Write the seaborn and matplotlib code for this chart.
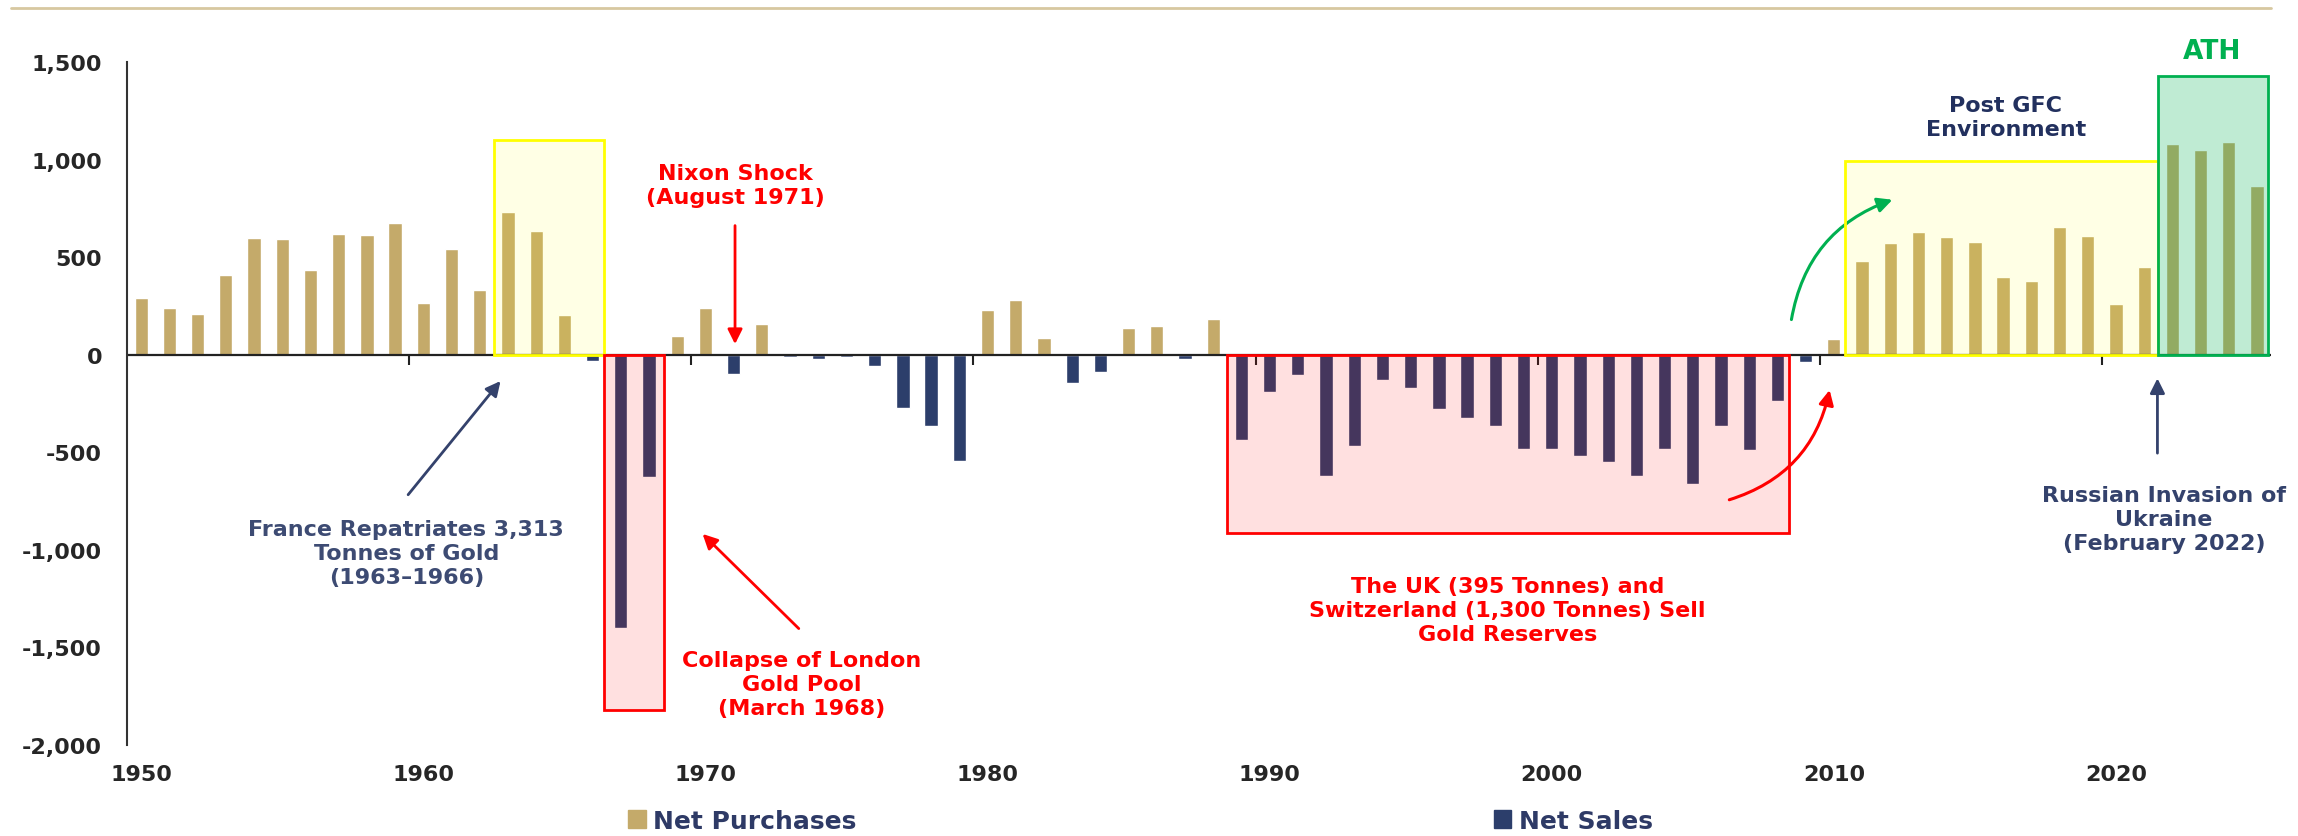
import pandas as pd
import seaborn as sns
import matplotlib.pyplot as plt
from matplotlib.patches import Rectangle, Patch
from matplotlib.lines import Line2D

# data (tonnes)
years = list(range(1950, 2026))
net_flow = [292, 239, 208, 410, 600, 595, 437, 619, 612, 675,
            267, 543, 333, 731, 634, 202, -30, -1400, -624, 96,
            239, -99, 156, -12, -20, -12, -58, -274, -367, -543,
            232, 279, 87, -146, -86, 137, 149, -22, 183, -436,
            -191, -102, -622, -469, -128, -171, -280, -326, -365, -482,
            -482, -519, -547, -619, -482, -664, -367, -487, -237, -34,
            82, 482, 574, 632, 605, 581, 400, 379, 656, 608,
            260, 451, 1083, 1049, 1093, 865]
series_names = ['Net Purchases', 'Net Sales']
y_ticks = [-2000, -1500, -1000, -500, 0, 500, 1000, 1500]
x_ticks = [1950, 1960, 1970, 1980, 1990, 2000, 2010, 2020]

TAN = '#C4AA6A'
NAVY = '#2C3E6B'
RED = '#FF0000'
GREEN = '#00B050'
YELLOW = '#FFFF00'
SLATE = '#34426C'

df = pd.DataFrame({'year': years, 'value': net_flow})
df['type'] = df['value'].apply(lambda v: series_names[0] if v >= 0 else series_names[1])

sns.set_style('white')
plt.rcParams['font.family'] = ['DejaVu Sans']

fig = plt.figure(figsize=(22.98, 8.37), dpi=100)
ax = fig.add_axes([0.0553, 0.1087, 0.933, 0.8157])

sns.barplot(data=df, x='year', y='value', hue='type', hue_order=series_names,
            palette=[TAN, NAVY], dodge=False, native_scale=True, width=0.47,
            saturation=1, legend=False, ax=ax, zorder=2)

ax.set_xlim(1949.5, 2025.5)
ax.set_ylim(-2000, 1500)
ax.set_xlabel('')
ax.set_ylabel('')

# zero line with small ticks between decades
ax.axhline(0, color='#222222', lw=1.6, zorder=2.5)
ax.plot([x - 0.5 for x in x_ticks[1:]], [0] * (len(x_ticks) - 1), ls='none',
        marker=3, ms=7, mew=1.5, color='#222222', zorder=2.5)

ax.set_yticks(y_ticks)
ax.set_yticklabels([f'{v:,}' for v in y_ticks])
ax.set_xticks(x_ticks)
ax.set_xticklabels([str(x) for x in x_ticks])
ax.tick_params(axis='y', length=6, width=1.5, color='#333333', pad=12,
               labelsize=16, labelcolor='#262626')
ax.tick_params(axis='x', length=0, pad=14, labelsize=16, labelcolor='#262626')
for lab in ax.get_xticklabels() + ax.get_yticklabels():
    lab.set_fontweight('bold')
for s in ['top', 'right', 'bottom']:
    ax.spines[s].set_visible(False)
ax.spines['left'].set_color('#333333')
ax.spines['left'].set_linewidth(1.5)

# highlight boxes
boxes = [
    (1962.5, 0, 3.9, 1100, YELLOW, 0.10),
    (1966.4, -1820, 2.15, 1820, RED, 0.12),
    (1988.5, -912, 19.9, 912, RED, 0.12),
    (2010.4, 0, 11.1, 995, YELLOW, 0.10),
    (2021.5, 0, 3.9, 1430, GREEN, 0.25),
]
for x0, y0, w, h, c, a in boxes:
    ax.add_patch(Rectangle((x0, y0), w, h, facecolor=c, alpha=a, lw=0, zorder=3))
    ax.add_patch(Rectangle((x0, y0), w, h, facecolor='none', edgecolor=c,
                           lw=2, zorder=3.2, clip_on=False))

bold = dict(fontweight='bold', ha='center', va='center', linespacing=1.25)

# annotations
ax.text(1971.05, 871, 'Nixon Shock\n(August 1971)', color=RED, fontsize=16, **bold)
ax.annotate('', xy=(1971.05, 41), xytext=(1971.05, 677),
            arrowprops=dict(arrowstyle='-|>', color=RED, lw=2, mutation_scale=22))

ax.text(1959.4, -1017, 'France Repatriates 3,313\nTonnes of Gold\n(1963\u20131966)',
        color='#3D4B73', fontsize=16, **bold)
ax.annotate('', xy=(1962.8, -123), xytext=(1959.4, -728),
            arrowprops=dict(arrowstyle='-|>', color=SLATE, lw=2, mutation_scale=22))

ax.text(1973.4, -1686, 'Collapse of London\nGold Pool\n(March 1968)',
        color=RED, fontsize=16, **bold)
ax.annotate('', xy=(1969.83, -908), xytext=(1973.38, -1413),
            arrowprops=dict(arrowstyle='-|>', color=RED, lw=2, mutation_scale=22))

ax.text(1998.44, -1307, 'The UK (395 Tonnes) and\nSwitzerland (1,300 Tonnes) Sell\nGold Reserves',
        color=RED, fontsize=16, **bold)
ax.annotate('', xy=(2009.87, -166), xytext=(2006.2, -747),
            arrowprops=dict(arrowstyle='-|>', color=RED, lw=2.2, mutation_scale=22,
                            connectionstyle='arc3,rad=0.3'))

ax.annotate('', xy=(2012.17, 800), xytext=(2008.48, 167),
            arrowprops=dict(arrowstyle='-|>', color=GREEN, lw=2.2, mutation_scale=22,
                            connectionstyle='arc3,rad=-0.3'))
ax.text(2016.1, 1217, 'Post GFC\nEnvironment', color='#22305E', fontsize=16, **bold)
ax.text(2023.4, 1557, 'ATH', color=GREEN, fontsize=19, **bold)

ax.text(2021.7, -840, 'Russian Invasion of\nUkraine\n(February 2022)',
        color=SLATE, fontsize=16, **bold)
ax.annotate('', xy=(2021.47, -106), xytext=(2021.47, -518),
            arrowprops=dict(arrowstyle='-|>', color=SLATE, lw=2, mutation_scale=22))

# legend spread along the bottom
handles = [Patch(color=TAN, label=series_names[0]), Patch(color=NAVY, label=series_names[1])]
fig.legend(handles=handles, loc='center', bbox_to_anchor=(0.4963, 0.018), ncol=2,
           frameon=False, handlelength=0.7, handleheight=0.7, handletextpad=0.3,
           columnspacing=25.5, labelcolor='#2E3A66',
           prop={'weight': 'bold', 'size': 18})

# thin rule at the top
fig.add_artist(Line2D([11 / 2298, 2271 / 2298], [0.989, 0.989], color='#D7C8A0', lw=2))

fig.savefig('out.png', dpi=100)
